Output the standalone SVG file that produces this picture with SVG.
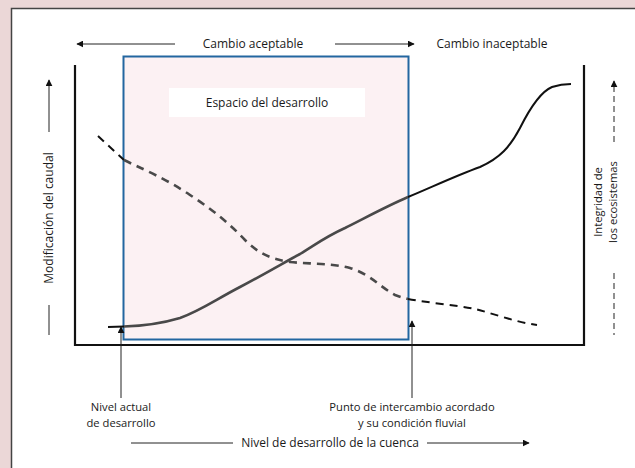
<svg xmlns="http://www.w3.org/2000/svg" width="635" height="468" viewBox="0 0 635 468">
<style>
text{font-family:"Open Sans","Liberation Sans",sans-serif;font-size:12px;fill:#1a1a1a}
.c{text-anchor:middle}
.s{font-size:11.2px}
.ax{stroke:#111;stroke-width:2.2;fill:none}
.thin{stroke:#222;stroke-width:1;fill:none}
.cur{stroke:#111;stroke-width:2;fill:none}
.curin{stroke:#4a4a4a;stroke-width:2.6;fill:none;filter:url(#blur)}
</style>
<defs>
<marker id="ah" viewBox="0 0 10 10" refX="9" refY="5" markerWidth="7" markerHeight="7" markerUnits="userSpaceOnUse" orient="auto">
<path d="M0,0 L10,5 L0,10 z" fill="#111"/>
</marker>
<filter id="blur" x="-5%" y="-5%" width="110%" height="110%"><feGaussianBlur stdDeviation="0.7"/></filter>
</defs>
<rect x="0" y="0" width="635" height="468" fill="#ebd7d7"/>
<rect x="11.5" y="8.5" width="630" height="470" fill="#fff" stroke="#444" stroke-width="1.5"/>

<g id="axes">
<path class="ax" d="M75,65 V345 H584 V65"/>
</g>

<g id="espacio">
<rect x="123.5" y="56.5" width="285" height="283" fill="#fcf1f3" stroke="#2366a0" stroke-width="2"/>
<rect x="169" y="88" width="196" height="29" fill="#fff"/>
<text class="c" x="267" y="107">Espacio del desarrollo</text>
</g>

<g id="labels">
<text class="c" x="253" y="48">Cambio aceptable</text>
<text class="c" x="492" y="48">Cambio inaceptable</text>
<text class="c" transform="translate(53,218) rotate(-90)">Modificación del caudal</text>
<text class="c s" transform="translate(602,202) rotate(-90)">Integridad de</text>
<text class="c s" transform="translate(617,202) rotate(-90)">los ecosistemas</text>
<text class="c s" x="121" y="411">Nivel actual</text>
<text class="c s" x="121" y="427">de desarrollo</text>
<text class="c s" x="412" y="411">Punto de intercambio acordado</text>
<text class="c s" x="412" y="427">y su condición fluvial</text>
<text class="c" x="330" y="447">Nivel de desarrollo de la cuenca</text>
</g>

<g id="connectors">
<line class="thin" x1="175" y1="44" x2="77" y2="44" marker-end="url(#ah)"/>
<line class="thin" x1="335" y1="44" x2="414" y2="44" marker-end="url(#ah)"/>
<line class="thin" x1="49" y1="132" x2="49" y2="80" marker-end="url(#ah)"/>
<line class="thin" x1="49" y1="305" x2="49" y2="335"/>
<line class="thin" x1="614" y1="142" x2="614" y2="81" stroke-dasharray="6,4" marker-end="url(#ah)"/>
<line class="thin" x1="614" y1="273" x2="614" y2="335" stroke-dasharray="6,4"/>
<line class="thin" x1="121" y1="398" x2="121" y2="327" marker-end="url(#ah)"/>
<line class="thin" x1="412" y1="398" x2="412" y2="321" marker-end="url(#ah)"/>
<line class="thin" x1="131" y1="443" x2="233" y2="443"/>
<line class="thin" x1="427" y1="443" x2="529" y2="443" marker-end="url(#ah)"/>

<path class="cur" d="M108,327 L124,326.5"/>
<path class="curin" d="M124,326.5 C140,326 160,324 180,318 C200,311 215,300 240,287 C265,274 285,262 300,254 C315,245 325,237 345,228 C365,218 385,207 408,197"/>
<path class="cur" d="M408,197 C430,188 455,176 480,167 C500,158 510,147 520,128 C530,108 540,92 552,87 C558,85 564,84 571,84"/>

<path class="cur" stroke-dasharray="8,6" d="M98,136 L124,160"/>
<path class="curin" stroke-dasharray="8,6" d="M124,160 C140,168 165,178 190,195 C210,208 228,222 245,240 C258,253 270,259 290,262 C310,264 330,263 350,268 C370,274 380,287 395,295 C400,297 404,298 408,299"/>
<path class="cur" stroke-dasharray="8,6" d="M408,299 C430,303 455,305 475,309 C495,314 515,322 537,325"/>
</g>
</svg>
